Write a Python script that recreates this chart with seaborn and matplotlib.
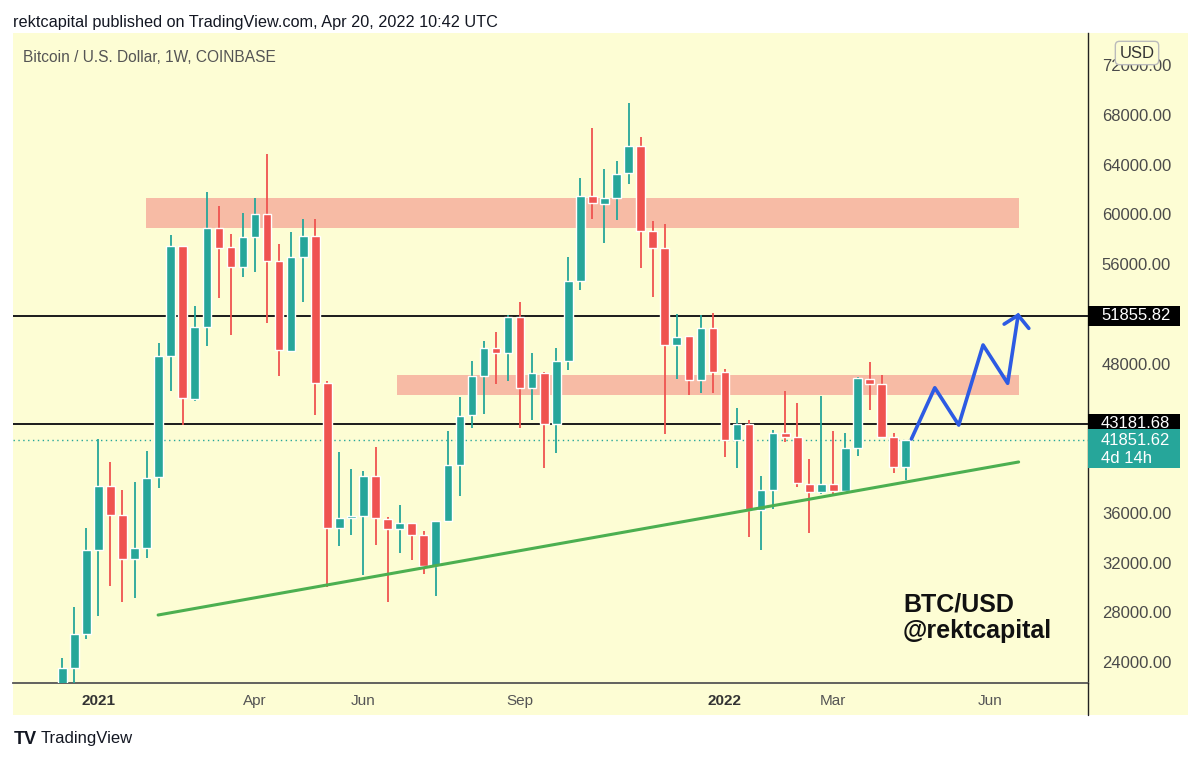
import matplotlib
matplotlib.use("Agg")
import matplotlib.pyplot as plt
import matplotlib.transforms as mtransforms
from matplotlib.patches import Rectangle
from matplotlib.lines import Line2D
import numpy as np
import pandas as pd
import seaborn as sns

# weekly candles, COINBASE BTC/USD (week start dates)
weeks = pd.date_range("2020-12-14", "2022-04-18", freq="W-MON")

opens = [19270, 23480, 26260, 33000, 38150, 35800, 32260, 33150, 38860, 48640,
         57490, 45130, 50920, 58930, 57350, 55740, 58190, 60020, 56260, 49050,
         56600, 58300, 46480, 34760, 35610, 35770, 38980, 35530, 34680, 35210,
         34220, 31760, 35370, 39850, 43840, 47030, 49240, 48850, 51790, 46050,
         47250, 43170, 48250, 54650, 61510, 60820, 61300, 63310, 65510, 58680,
         57340, 49460, 50200, 46720, 50880, 47310, 41860, 43120, 36230, 37840,
         42400, 42080, 38320, 37700, 38320, 37760, 41220, 46800, 46360, 42080,
         39660]
highs = [24300, 28400, 34800, 41950, 40100, 37800, 38480, 40970, 49660, 58350,
         57490, 52630, 61780, 60680, 58400, 60100, 61330, 64900, 57620, 58570,
         59640, 59640, 46600, 40870, 39500, 39330, 41330, 35690, 36630, 35210,
         34570, 35340, 42580, 45350, 48210, 49820, 50520, 51930, 52920, 48850,
         47300, 49240, 56560, 62910, 66940, 63660, 64300, 68960, 66270, 59500,
         59210, 52010, 50200, 51930, 52070, 47570, 44410, 43470, 38960, 42660,
         45800, 44800, 40300, 45400, 42580, 42450, 46900, 48160, 47090, 42400,
         41810]
lows = [19000, 21900, 25850, 27700, 30100, 28800, 29180, 32400, 38030, 45800,
        43060, 45000, 49400, 53270, 50300, 54970, 55400, 51300, 47030, 48900,
        52930, 43870, 30060, 33330, 34210, 31000, 33410, 28860, 32740, 32200,
        31060, 29310, 35300, 37350, 42850, 43920, 46330, 46600, 42850, 43470,
        39580, 40780, 47500, 53920, 59610, 57700, 59550, 62450, 55670, 53400,
        42370, 46800, 45480, 45630, 45630, 40520, 39580, 34080, 32970, 36300,
        41730, 38050, 34350, 37510, 37320, 37580, 40570, 44270, 42000, 39230,
        38640]
closes = [23480, 26260, 33000, 38150, 35800, 32260, 33150, 38800, 48640, 57490,
          45220, 50920, 58930, 57320, 55740, 58190, 60020, 56260, 49100, 56600,
          58300, 46420, 34770, 35610, 35750, 38980, 35610, 34680, 35210, 34220,
          31760, 35340, 39850, 43790, 47030, 49240, 48850, 51790, 46030, 47250,
          43170, 48250, 54650, 61510, 60900, 61300, 63250, 65510, 58680, 57340,
          49460, 50120, 46720, 50880, 47310, 41860, 43120, 36240, 37830, 42400,
          42080, 38380, 37700, 38320, 37760, 41250, 46850, 46390, 42120, 39660,
          41851.62]

# drawn levels and zones
level_lines = [51855.82, 43181.68]
last_price = 41851.62
zone_upper = (58910, 61320)
zone_lower = (45480, 47090)
zone_upper_start = "2021-01-31 18:00"
zone_lower_start = "2021-06-26 16:00"
zone_end = "2022-06-23 00:00"

trend_dates = ["2021-02-07 17:00", "2022-06-22 14:00"]
trend_prices = [27780, 40090]

path_dates = ["2022-04-21 07:00", "2022-05-04 21:00", "2022-05-18 19:00",
              "2022-06-01 22:00", "2022-06-16 05:00", "2022-06-22 07:00"]
path_prices = [41940, 46060, 43060, 49500, 46420, 51900]
arrow_dates = ["2022-06-14 04:00", "2022-06-22 07:00", "2022-06-28 12:00"]
arrow_prices = [51180, 51900, 50840]

tick_dates = ["2021-01-04", "2021-04-05", "2021-06-07", "2021-09-06",
              "2022-01-03", "2022-03-07", "2022-06-06"]
tick_labels = ["2021", "Apr", "Jun", "Sep", "2022", "Mar", "Jun"]
# scale labels that are not hidden behind the price boxes
price_ticks = [24000, 28000, 32000, 36000, 48000, 56000, 60000, 64000, 68000, 72000]

YELLOW = "#fdfdd4"
TEAL = "#26a69a"
RED = "#ef5350"
ZONE = "#f7bba5"
GREEN = "#4caf50"
BLUE = "#2d5be3"

sns.set_theme(style="white")
plt.rcParams["font.family"] = ["Liberation Sans", "DejaVu Sans"]

fig = plt.figure(figsize=(12, 7.61), dpi=100)
fig.patch.set_facecolor("white")
W, H = 1200, 761
fig.add_artist(Rectangle((13 / W, 1 - 715 / H), 1175 / W, 682 / H,
                         transform=fig.transFigure, fc=YELLOW, ec="none", zorder=0))
ax = fig.add_axes([13 / W, 1 - 683 / H, 1075 / W, 650 / H])
ax.set_facecolor(YELLOW)

df = pd.DataFrame({"week": weeks, "open": opens, "high": highs,
                   "low": lows, "close": closes})
colors = np.where(df["close"] >= df["open"], TEAL, RED)

# zones behind the candles
ax.fill_between(pd.to_datetime([zone_upper_start, zone_end]), *zone_upper,
                color=ZONE, lw=0, zorder=1)
ax.fill_between(pd.to_datetime([zone_lower_start, zone_end]), *zone_lower,
                color=ZONE, lw=0, zorder=1)

for lvl in level_lines:
    ax.axhline(lvl, color="#1a1a1a", lw=1.4, zorder=2)
ax.axhline(last_price, color=TEAL, lw=1, ls=(0, (1, 2.5)), zorder=2)

ax.vlines(df["week"], df["low"], df["high"], colors=colors, lw=1.3, zorder=3)
ax.bar(df["week"], df["close"] - df["open"], bottom=df["open"], width=5.0,
       color=colors, zorder=4)

sns.lineplot(x=pd.to_datetime(trend_dates), y=trend_prices, ax=ax,
             color=GREEN, lw=2.2, zorder=5)
sns.lineplot(x=pd.to_datetime(path_dates), y=path_prices, ax=ax, sort=False,
             estimator=None, color=BLUE, lw=2.6, zorder=6)
ax.plot(pd.to_datetime(arrow_dates), arrow_prices, color=BLUE, lw=2.6, zorder=6,
        solid_joinstyle="miter")

ax.set_xlim(pd.Timestamp("2020-11-15 10:00"), pd.Timestamp("2022-08-01 21:00"))
ax.set_ylim(22311, 74597)
ax.set_xlabel("")
ax.set_ylabel("")

ax.set_xticks(pd.to_datetime(tick_dates))
ax.set_xticklabels(tick_labels)
for lab in ax.get_xticklabels():
    lab.set_fontweight("bold" if lab.get_text().isdigit() else "normal")
    lab.set_color("#333333" if lab.get_text().isdigit() else "#555555")
ax.tick_params(axis="x", length=0, pad=8, labelsize=11)

ax.yaxis.tick_right()
ax.set_yticks(price_ticks)
ax.set_yticklabels([f"{p:.2f}" for p in price_ticks])
ax.tick_params(axis="y", length=0, pad=10, labelsize=12, labelcolor="#4a4a4a")

for side in ["left", "top"]:
    ax.spines[side].set_visible(False)
ax.spines["right"].set_color("#222222")
ax.spines["right"].set_linewidth(1)
ax.spines["bottom"].set_color("#555555")
ax.spines["bottom"].set_linewidth(1.3)
ax.grid(False)

fig.add_artist(Line2D([1088 / W, 1088 / W], [1 - 683 / H, 1 - 715 / H],
                      transform=fig.transFigure, color="#222222", lw=1))

# price labels on the right scale
blend = mtransforms.blended_transform_factory(ax.transAxes, ax.transData)
box_w = 92 / 1075
px = 80.44
for lvl in level_lines:
    ax.add_patch(Rectangle((1.0, lvl - 10 * px), box_w, 20 * px, transform=blend,
                           fc="black", ec="none", clip_on=False, zorder=10))
    ax.text(1.012, lvl, f"{lvl:.2f}", transform=blend, color="white",
            fontsize=12, va="center", ha="left", clip_on=False, zorder=11)
ax.add_patch(Rectangle((1.0, last_price - 28 * px), box_w, 39 * px, transform=blend,
                       fc=TEAL, ec="none", clip_on=False, zorder=10))
ax.text(1.012, last_price, f"{last_price:.2f}", transform=blend, color="white",
        fontsize=12, va="center", ha="left", clip_on=False, zorder=11)
ax.text(1.012, last_price - 18 * px, "4d 14h", transform=blend, color="white",
        fontsize=12, va="center", ha="left", clip_on=False, zorder=11)

fig.text(1137 / W, 1 - 53 / H, "USD", ha="center", va="center", fontsize=12,
         color="#333333",
         bbox=dict(boxstyle="round,pad=0.25", fc=YELLOW, ec="#bbbbbb", lw=1))

fig.text(13 / W, 1 - 22 / H,
         "rektcapital published on TradingView.com, Apr 20, 2022 10:42 UTC",
         ha="left", va="center", fontsize=11.7, color="#131722")
fig.text(23 / W, 1 - 57 / H, "Bitcoin / U.S. Dollar, 1W, COINBASE",
         ha="left", va="center", fontsize=11.2, color="#555555")
fig.text(903 / W, 1 - 593 / H, "BTC/USD\n@rektcapital", ha="left", va="top",
         fontsize=18, fontweight="bold", color="#111111", linespacing=1.1)

fig.text(14 / W, 1 - 739 / H, "TV", ha="left", va="center", fontsize=13,
         fontweight="heavy", color="#131722")
fig.text(41 / W, 1 - 739 / H, "TradingView", ha="left", va="center",
         fontsize=12, color="#131722")

fig.savefig("out.png", dpi=100)
